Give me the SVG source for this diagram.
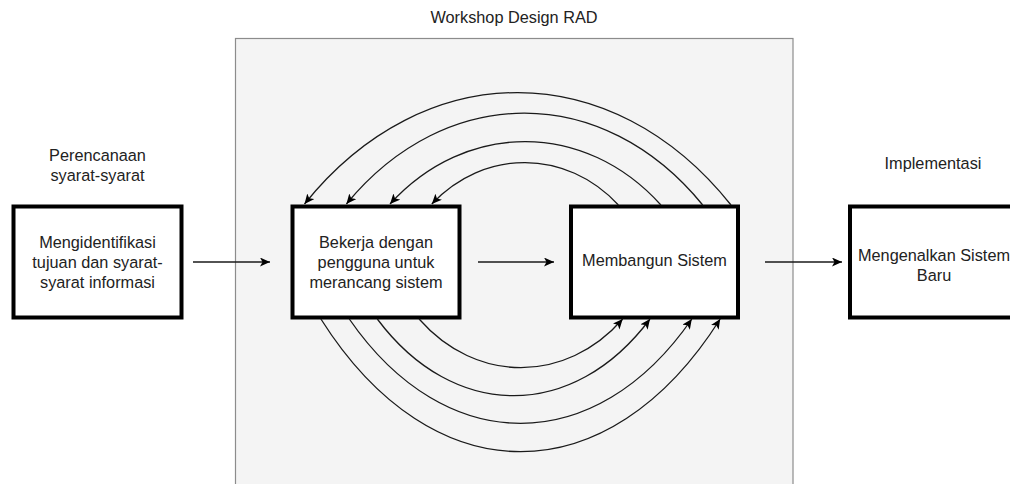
<svg xmlns="http://www.w3.org/2000/svg" width="1010" height="484" viewBox="0 0 1010 484">
  <style>
    .box { fill: #ffffff; stroke: #000000; stroke-width: 4; }
    .frame { fill: #f4f4f4; stroke: #8c8c8c; stroke-width: 1.2; }
    .t { font-family: "Liberation Sans", Arial, sans-serif; font-size: 16.3px; fill: #222222; text-anchor: middle; }
    .edge { fill: none; stroke: #1a1a1a; stroke-width: 1.3; }
  </style>
  <defs>
    <marker id="arr" markerUnits="userSpaceOnUse" markerWidth="12" markerHeight="10" refX="10" refY="4.5" orient="auto">
      <path d="M0,0 L10,4.5 L0,9 L2.5,4.5 z" fill="#000000"/>
    </marker>
  </defs>
  <rect width="1010" height="484" fill="#ffffff"/>

  <g id="workshop-frame">
    <rect class="frame" x="235.5" y="38.5" width="557.5" height="460"/>
    <text class="t" x="514" y="23">Workshop Design RAD</text>
  </g>

  <g id="label-perencanaan">
    <text class="t" x="97.5" y="161">Perencanaan</text>
    <text class="t" x="97.5" y="181">syarat-syarat</text>
  </g>

  <g id="label-implementasi">
    <text class="t" x="933" y="169">Implementasi</text>
  </g>

  <g id="node-mengidentifikasi">
    <rect class="box" x="13.5" y="206.5" width="168" height="111"/>
    <text class="t" x="97.5" y="247.5">Mengidentifikasi</text>
    <text class="t" x="97.5" y="267.5">tujuan dan syarat-</text>
    <text class="t" x="97.5" y="287.5">syarat informasi</text>
  </g>

  <g id="node-bekerja">
    <rect class="box" x="292.5" y="206.5" width="167" height="111"/>
    <text class="t" x="376" y="247.5">Bekerja dengan</text>
    <text class="t" x="376" y="267.5">pengguna untuk</text>
    <text class="t" x="376" y="287.5">merancang sistem</text>
  </g>

  <g id="node-membangun">
    <rect class="box" x="571" y="206.5" width="167" height="111"/>
    <text class="t" x="654.5" y="266">Membangun Sistem</text>
  </g>

  <g id="node-mengenalkan">
    <rect class="box" x="850" y="206.5" width="168" height="111"/>
    <text class="t" x="934" y="260.5">Mengenalkan Sistem</text>
    <text class="t" x="934" y="280.5">Baru</text>
  </g>

  <g id="connectors">
    <path class="edge" d="M193,262 L270,262" marker-end="url(#arr)"/>
    <path class="edge" d="M478,262 L554,262" marker-end="url(#arr)"/>
    <path class="edge" d="M765,262 L842,262" marker-end="url(#arr)"/>

    <path class="edge" d="M731,205 C611.6,55.3 423.9,55.3 304.5,204" marker-end="url(#arr)"/>
    <path class="edge" d="M702.7,205 C602.9,82.7 446.2,82.7 346.4,204" marker-end="url(#arr)"/>
    <path class="edge" d="M660.9,205 C585,120.6 465.9,120.6 390,204" marker-end="url(#arr)"/>
    <path class="edge" d="M618.4,205 C566.2,148.6 484,148.6 431.8,204" marker-end="url(#arr)"/>

    <path class="edge" d="M320.9,319 C432.7,495.9 608.4,495.9 720.2,319" marker-end="url(#arr)"/>
    <path class="edge" d="M349.3,319 C445.2,458.1 595.9,458.1 691.8,319" marker-end="url(#arr)"/>
    <path class="edge" d="M377.3,319 C453.7,421.3 573.6,421.3 650,319" marker-end="url(#arr)"/>
    <path class="edge" d="M419.1,319 C476.1,383.9 565.7,383.9 622.7,319" marker-end="url(#arr)"/>
  </g>
</svg>
